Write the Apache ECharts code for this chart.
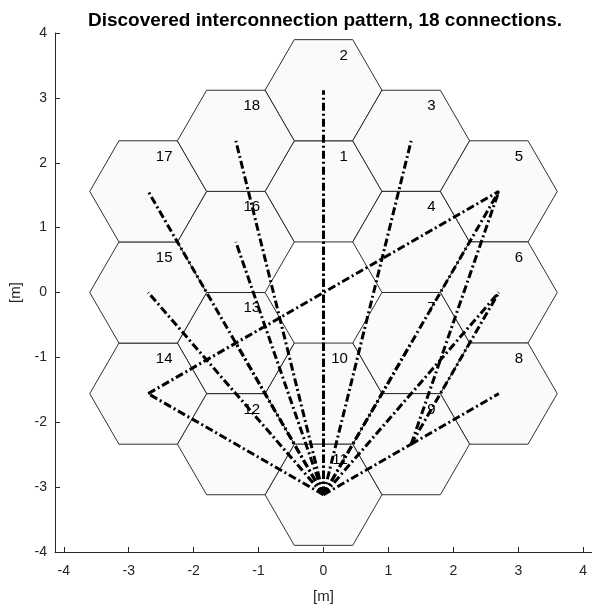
<!DOCTYPE html>
<html>
<head>
<meta charset="utf-8">
<script src="https://cdn.jsdelivr.net/npm/echarts@6/dist/echarts.min.js"></script>
<style>
html,body{margin:0;padding:0;background:#fff;}
#chart{width:592px;height:609px;}
</style>
</head>
<body>
<div id="chart"></div>
<script>
// Hexagon cells (label, centre x, centre y) in metres
const hexLabels = [1, 2, 3, 4, 5, 6, 7, 8, 9, 10, 11, 12, 13, 14, 15, 16, 17, 18];
const hexX = [0, 0, 1.35, 1.35, 2.7, 2.7, 1.35, 2.7, 1.35, 0, 0, -1.35, -1.35, -2.7, -2.7, -1.35, -2.7, -1.35];
const hexY = [1.559, 3.118, 2.338, 0.779, 1.559, 0, -0.779, -1.559, -2.338, -1.559, -3.118, -2.338, -0.779, -1.559, 0, 0.779, 1.559, 2.338];

// Discovered connections (cell labels)
const connFrom = [11, 11, 11, 11, 11, 11, 11, 11, 11, 11, 11, 11, 11, 9, 9, 9, 14, 11];
const connTo   = [2, 1, 10, 18, 16, 17, 15, 14, 3, 5, 7, 6, 9, 8, 5, 6, 5, 13];

// Tick labels
const xTicks = [-4, -3, -2, -1, 0, 1, 2, 3, 4];

const HEX_SIDE = 0.9;
const FONT = '"Liberation Sans", Arial, Helvetica, sans-serif';
const TXT = '#262626';

const hexData = hexLabels.map((l, i) => [hexX[i], hexY[i], l]);

function cellPos(label) {
  const i = hexLabels.indexOf(label);
  return [hexX[i], hexY[i]];
}

const lineSeries = connFrom.map((f, i) => ({
  type: 'line',
  data: [cellPos(f), cellPos(connTo[i])],
  showSymbol: false,
  symbol: 'none',
  silent: true,
  z: 5,
  animation: false,
  lineStyle: { color: '#000', width: 3, type: [8, 3, 2, 3], cap: 'butt' }
}));

const chart = echarts.init(document.getElementById('chart'));
chart.setOption({
  backgroundColor: '#fff',
  animation: false,
  title: {
    text: 'Discovered interconnection pattern, 18 connections.',
    left: 320, textAlign: 'center', top: 6,
    textStyle: { fontFamily: FONT, fontSize: 19, fontWeight: 'bold', color: '#000' }
  },
  grid: { left: 55, top: 33, width: 540, height: 522 },
  xAxis: {
    type: 'value', min: -4.135, max: 4.135,
    name: '[m]', nameLocation: 'middle', nameGap: 37,
    nameTextStyle: { fontFamily: FONT, fontSize: 15, color: TXT },
    axisLine: { onZero: false, lineStyle: { color: TXT, width: 1 } },
    axisTick: { inside: true, length: 5, customValues: xTicks, lineStyle: { color: TXT } },
    axisLabel: { customValues: xTicks, fontFamily: FONT, fontSize: 14, color: TXT, margin: 12 },
    splitLine: { show: false }
  },
  yAxis: {
    type: 'value', min: -4, max: 4, interval: 1,
    name: '[m]', nameLocation: 'middle', nameGap: 28,
    nameTextStyle: { fontFamily: FONT, fontSize: 15, color: TXT },
    axisLine: { onZero: false, lineStyle: { color: TXT, width: 1 } },
    axisTick: { inside: true, length: 5, lineStyle: { color: TXT } },
    axisLabel: { fontFamily: FONT, fontSize: 14, color: TXT, margin: 8 },
    splitLine: { show: false }
  },
  series: [{
    type: 'custom',
    data: hexData,
    silent: true,
    z: 2,
    renderItem: function (params, api) {
      const x = api.value(0), y = api.value(1), lab = api.value(2);
      const pts = [];
      for (let k = 0; k < 6; k++) {
        const a = Math.PI / 3 * k;
        pts.push(api.coord([x + HEX_SIDE * Math.cos(a), y + HEX_SIDE * Math.sin(a)]));
      }
      const tp = api.coord([x + 0.375, y + 0.535]);
      return {
        type: 'group',
        children: [
          { type: 'polygon', shape: { points: pts },
            style: { fill: '#fafafa', stroke: '#1a1a1a', lineWidth: 0.9 } },
          { type: 'text', x: tp[0], y: tp[1], z2: 10,
            style: { text: String(lab), align: 'right', verticalAlign: 'middle',
                     fontFamily: FONT, fontSize: 15, fill: '#000' } }
        ]
      };
    }
  }].concat(lineSeries)
});
</script>
</body>
</html>
